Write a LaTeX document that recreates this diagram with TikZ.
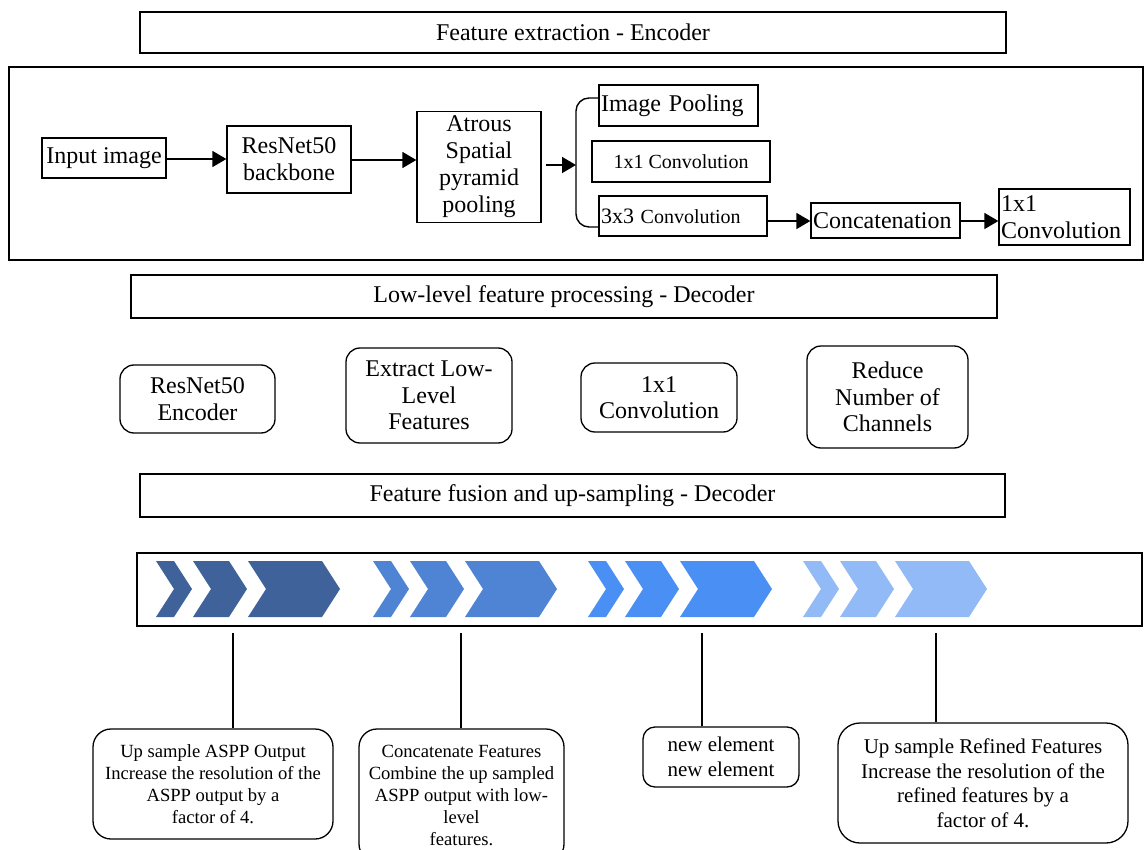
\documentclass[tikz,border=0pt]{standalone}
\usepackage{fontspec}
\setmainfont{Liberation Serif}
\usetikzlibrary{arrows.meta,calc}
\definecolor{chA}{RGB}{62,98,153}
\definecolor{chB}{RGB}{79,131,211}
\definecolor{chC}{RGB}{74,143,243}
\definecolor{chD}{RGB}{145,186,246}
\newcommand{\chevgroup}[2]{%
  \foreach \a/\b in {0/18,37/73,92/166}{%
    \fill[#2] ({#1+\a},561) -- ({#1+\b},561) -- ({#1+\b+18},589) -- ({#1+\b},617) -- ({#1+\a},617) -- ({#1+\a+18},589) -- cycle;}}
\begin{document}
\begin{tikzpicture}[x=1pt,y=-1pt,
  titlebox/.style={draw, line width=1.4pt, inner sep=0pt, font=\fontsize{24}{27}\selectfont},
  sq/.style={draw, line width=1.3pt, inner sep=1.5pt, font=\fontsize{24}{27}\selectfont, align=center},
  sqsmall/.style={sq, font=\fontsize{20}{23}\selectfont},
  rbox/.style={draw, line width=1.3pt, rounded corners=14pt, inner sep=0pt, align=center, font=\fontsize{24}{26.5}\selectfont},
  lbox/.style={draw, line width=1.3pt, rounded corners=18pt, inner sep=0pt, align=center, font=\fontsize{18.6}{22}\selectfont},
  lboxb/.style={draw, line width=1.3pt, rounded corners=18pt, inner sep=0pt, align=center, font=\fontsize{21}{24.5}\selectfont},
  arr/.style={line width=1.6pt, -{Triangle[length=14pt,width=16pt]}},
  ln/.style={line width=1.4pt}]
\useasboundingbox (0,0) rectangle (1145,850);

% titles
\node[titlebox, minimum width=866, minimum height=41] (t1) at (573,32.5) {Feature extraction - Encoder};
\node[titlebox, minimum width=866, minimum height=43] (t2) at (564,296.5) {Low-level feature processing - Decoder};
\node[titlebox, minimum width=865, minimum height=43] (t3) at (572.5,495.5) {Feature fusion and up-sampling - Decoder};

% encoder frame
\node[draw, line width=2pt, minimum width=1134, minimum height=193, inner sep=0pt] (enc) at (576,163.5) {};

% encoder nodes
\node[sq, minimum width=124, minimum height=40] (in) at (104,158) {Input image};
\node[sq, minimum width=124, minimum height=67] (rn) at (289,159.5) {ResNet50\\backbone};
\node[sq, minimum width=124, minimum height=111] (at) at (479,167) {Atrous\\Spatial\\pyramid\\pooling};
\node[sq, minimum width=159, minimum height=41, text width=155, align=left] (ip) at (678.5,105.5) {Image Pooling};
\node[sqsmall, minimum width=178, minimum height=41] (c1) at (681,161.5) {1x1 Convolution};
\node[sqsmall, minimum width=168, minimum height=40, text width=164, align=left] (c3) at (683,216) {\fontsize{22}{23}\selectfont 3x3 \fontsize{20}{23}\selectfont Convolution};
\node[sq, minimum width=149, minimum height=35, text width=145, align=left] (cc) at (885.5,220.5) {Concatenation};
\node[sq, minimum width=131, minimum height=56, text width=127, align=left] (fc) at (1064.5,217) {1x1\\Convolution};

% bracket
\coordinate (brT) at (599,98);
\coordinate (brB) at (599,227);
\coordinate (brM) at (576,165);
\draw[ln, rounded corners=13pt] (brT) -- (brT -| brM) -- (brB -| brM) -- (brB);

% encoder arrows
\draw[arr] (in.east |- 0,159) -- (rn.west |- 0,159);
\draw[arr] (rn.east |- 0,160) -- (at.west |- 0,160);
\draw[arr] ([xshift=4pt]at.east |- brM) -- (brM);
\draw[arr] (c3.east |- 0,221) -- (cc.west |- 0,221);
\draw[arr] (cc.east |- 0,221) -- (fc.west |- 0,221);

% decoder row
\node[rbox, minimum width=155, minimum height=68] (d1) at (197.5,399) {ResNet50\\Encoder};
\node[rbox, minimum width=166, minimum height=95] (d2) at (429,395.5) {Extract Low-\\Level\\Features};
\node[rbox, minimum width=156, minimum height=69] (d3) at (659,397.5) {1x1\\Convolution};
\node[rbox, minimum width=161, minimum height=102] (d4) at (887.5,397) {Reduce\\Number of\\Channels};

% chevron bar
\node[draw, line width=1.6pt, minimum width=1005, minimum height=73, inner sep=0pt] (bar) at (639.5,589.5) {};
\chevgroup{156}{chA}
\chevgroup{373}{chB}
\chevgroup{588}{chC}
\chevgroup{803}{chD}

% bottom boxes
\node[lbox, minimum width=240, minimum height=110] (bA) at (213,784) {Up sample ASPP Output\\Increase the resolution of the\\ASPP output by a\\factor of 4.};
\node[lbox, minimum width=205, minimum height=133] (bB) at (461.5,795.5) {Concatenate Features\\Combine the up sampled\\ASPP output with low-\\level\\features.};
\node[lboxb, minimum width=156, minimum height=60, rounded corners=12pt] (bC) at (721,757) {new element\\new element};
\node[lboxb, minimum width=290, minimum height=120, rounded corners=22pt] (bD) at (983,783) {Up sample Refined Features\\Increase the resolution of the\\refined features by a\\factor of 4.};

% connectors
\coordinate (l1) at (233,633);
\coordinate (l2) at (461,633);
\coordinate (l3) at (702,633);
\coordinate (l4) at (936,633);
\draw[ln] (l1) -- (l1 |- bA.north);
\draw[ln] (l2) -- (l2 |- bB.north);
\draw[ln] (l3) -- (l3 |- bC.north);
\draw[ln] (l4) -- (l4 |- bD.north);
\end{tikzpicture}
\end{document}
